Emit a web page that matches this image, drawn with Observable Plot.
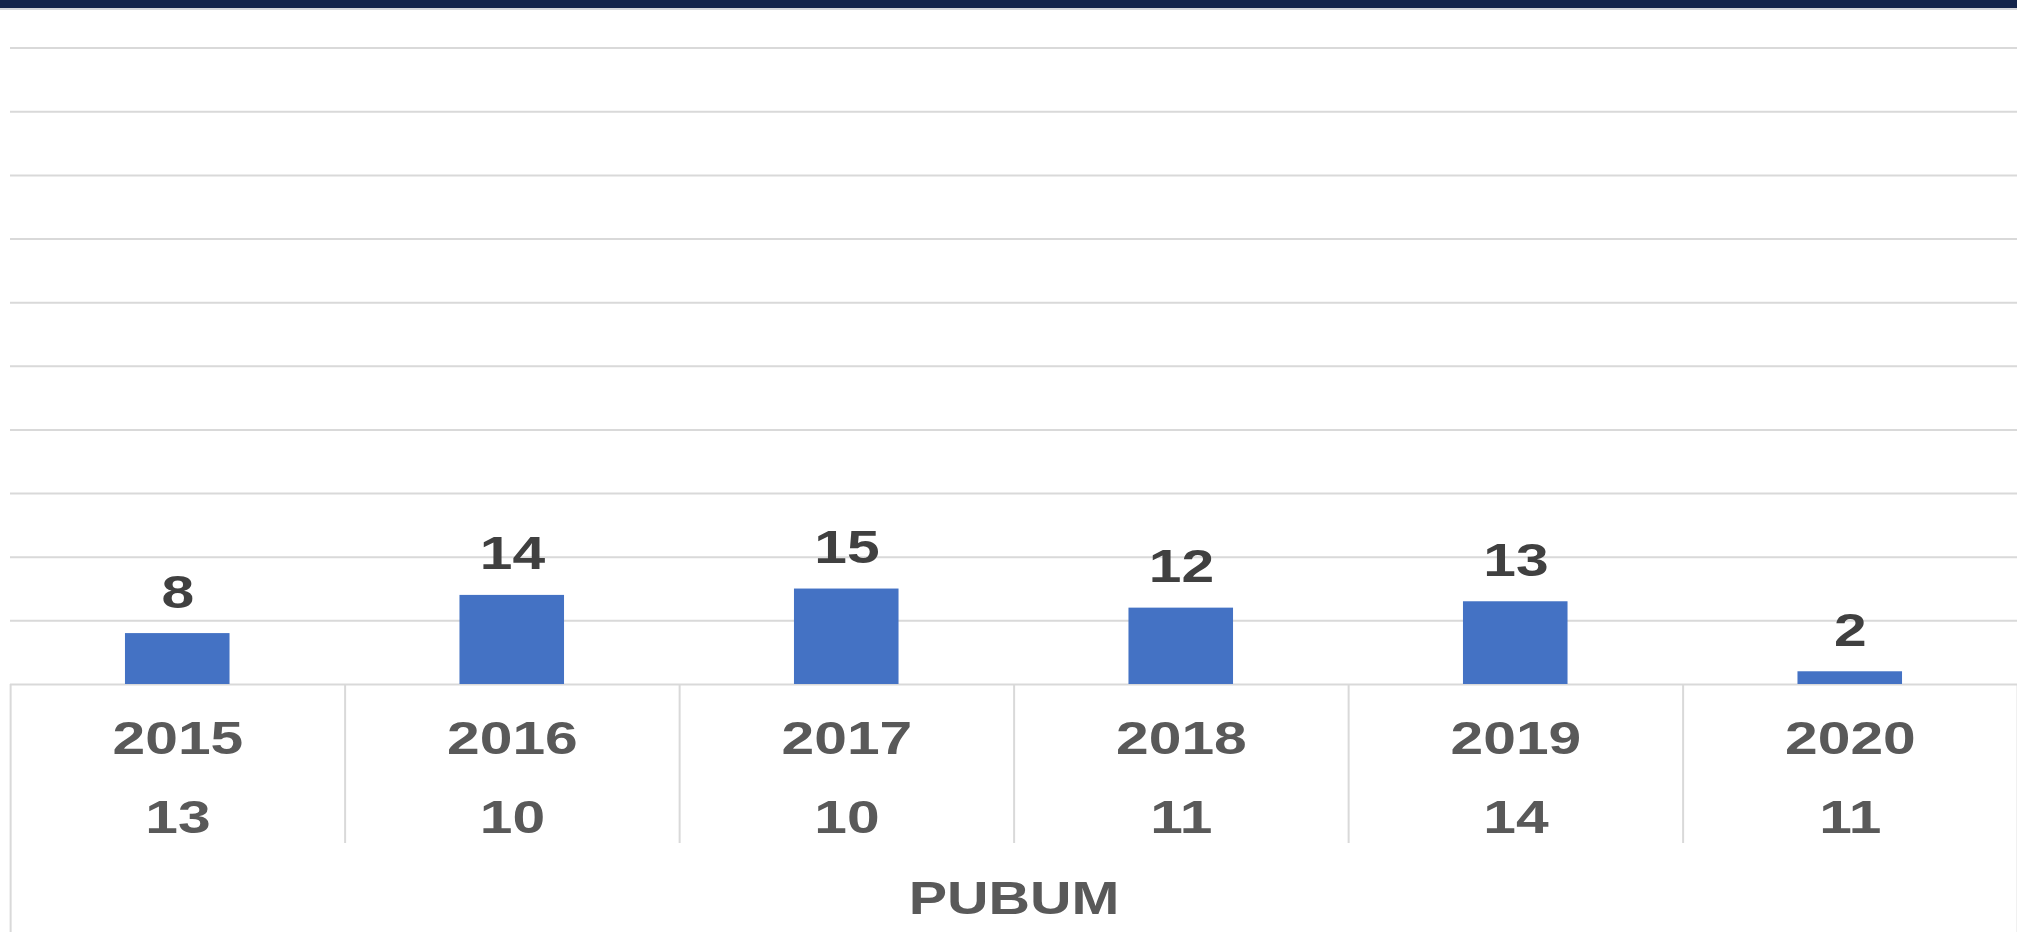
<!DOCTYPE html>
<html>
<head>
<meta charset="utf-8">
<script src="https://cdn.jsdelivr.net/npm/d3@7"></script>
<script src="https://cdn.jsdelivr.net/npm/@observablehq/plot@0.6"></script>
<style>
  html, body { margin: 0; padding: 0; background: #fff; overflow: hidden; }
  #topbar { height: 8px; background: #13244b; border-bottom: 2px solid #d4d6da; }
  #chart svg { display: block; }
</style>
</head>
<body>
<div id="topbar"></div>
<div id="chart"></div>
<script>
// ---- data ----
const years  = [2015, 2016, 2017, 2018, 2019, 2020];
const values = [8, 14, 15, 12, 13, 2];
const counts = [13, 10, 10, 11, 14, 11];
const axisLabel = "PUBUM";
const yTicks = [0, 10, 20, 30, 40, 50, 60, 70, 80, 90, 100];

// ---- layout ----
const PAGE_W = 2017;
const STRETCH = 1.25;          // the reference is horizontally stretched
const W = Math.round(PAGE_W / STRETCH);
const H = 922;

const data = years.map((year, i) => ({year, value: values[i], count: counts[i]}));
const bounds = [...years.map(y => y - 0.5), years[years.length - 1] + 0.5];
const innerBounds = bounds.slice(1, -1);
const edgeBounds = [bounds[0], bounds[bounds.length - 1]];

const font = "'Liberation Sans', Arial, sans-serif";

const plot = Plot.plot({
  width: W,
  height: H,
  marginTop: 37.6,
  marginBottom: 248,
  marginLeft: 8,
  marginRight: 0,
  x: {type: "linear", domain: [bounds[0], bounds[bounds.length - 1]], axis: null},
  y: {domain: [0, 100], axis: null},
  style: {fontFamily: font, background: "white", overflow: "visible"},
  marks: [
    Plot.ruleY(yTicks, {stroke: "#d9d9d9", strokeWidth: 2}),
    Plot.ruleX(innerBounds, {y: 0, insetBottom: -159, stroke: "#d9d9d9", strokeWidth: 1.6}),
    Plot.ruleX(edgeBounds, {y: 0, insetBottom: -250, stroke: "#d9d9d9", strokeWidth: 1.6}),
    Plot.rectY(data, {
      x1: d => d.year - 0.5, x2: d => d.year + 0.5, y: "value",
      fill: "#4472c4", insetLeft: 92, insetRight: 92
    }),
    Plot.text(data, {
      x: "year", y: "value", text: d => String(d.value), dy: -41,
      fontSize: 47, fontWeight: "bold", fill: "#404040"
    }),
    Plot.text(data, {
      x: "year", y: 0, text: d => String(d.year), dy: 54,
      fontSize: 47, fontWeight: "bold", fill: "#595959"
    }),
    Plot.text(data, {
      x: "year", y: 0, text: d => String(d.count), dy: 133,
      fontSize: 47, fontWeight: "bold", fill: "#595959"
    }),
    Plot.text([axisLabel], {
      frameAnchor: "bottom", lineAnchor: "middle", text: d => d, dy: 215,
      fontSize: 46, fontWeight: "bold", fill: "#595959"
    })
  ]
});

plot.setAttribute("width", PAGE_W);
plot.setAttribute("height", H);
plot.setAttribute("preserveAspectRatio", "none");
plot.style.width = PAGE_W + "px";
plot.style.height = H + "px";
plot.style.maxWidth = "none";
document.getElementById("chart").appendChild(plot);
</script>
</body>
</html>
